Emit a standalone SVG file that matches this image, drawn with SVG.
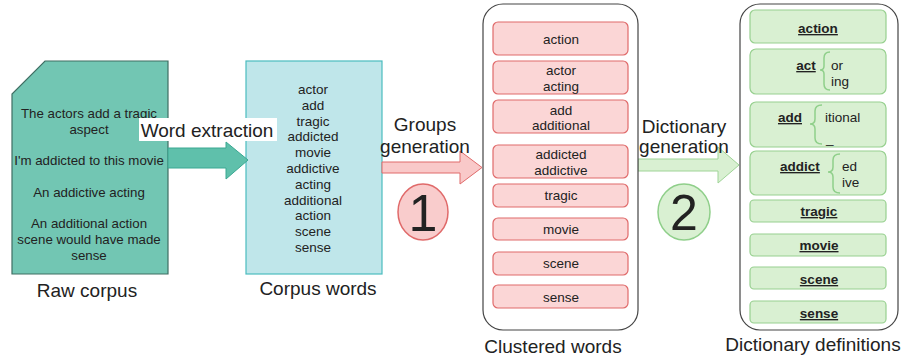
<svg xmlns="http://www.w3.org/2000/svg" width="903" height="359" viewBox="0 0 903 359">
<style>
text{font-family:"Liberation Sans",Arial,sans-serif;fill:#222;text-anchor:middle}
.s{font-size:13.3px}
.lbl{font-size:19px}
.w{font-size:13.5px}
.pk{fill:#fbd6d6;stroke:#e06a6a;stroke-width:1.2}
.gr{fill:#d9f0d2;stroke:#97d08f;stroke-width:1.2}
.b{font-weight:bold;text-decoration:underline}
.br{fill:none;stroke:#8fcf8a;stroke-width:1.5}
.l{text-anchor:start}
</style>
<rect width="903" height="359" fill="#fff"/>
<g id="raw-corpus">
<polygon points="45,61 168,61 168,274 12,274 12,94" fill="#72c6b3" stroke="#3f6e63" stroke-width="1.2"/>
<text class="s" x="89" y="118">The actors add a tragic</text>
<text class="s" x="89" y="134">aspect</text>
<text class="s" x="89" y="165">I'm addicted to this movie</text>
<text class="s" x="89" y="197">An addictive acting</text>
<text class="s" x="89" y="228">An additional action</text>
<text class="s" x="89" y="244">scene would have made</text>
<text class="s" x="89" y="260">sense</text>
<text class="lbl" x="87" y="297">Raw corpus</text>
</g>
<g id="corpus-words">
<rect x="246" y="61" width="136" height="213" fill="#bfe6ea" stroke="#4bbcbf" stroke-width="1.2"/>
<g class="w">
<text x="313" y="94">actor</text>
<text x="313" y="110">add</text>
<text x="313" y="126">tragic</text>
<text x="313" y="141">addicted</text>
<text x="313" y="157">movie</text>
<text x="313" y="173">addictive</text>
<text x="313" y="189">acting</text>
<text x="313" y="205">additional</text>
<text x="313" y="220">action</text>
<text x="313" y="236">scene</text>
<text x="313" y="252">sense</text>
</g>
<text class="lbl" x="318" y="295">Corpus words</text>
</g>
<g id="connectors">
<polygon points="168,148 226,148 226,142 248,160 226,179 226,168 168,168" fill="#5fc0ab" stroke="#3aa892" stroke-width="1"/>
<rect x="139" y="118" width="138" height="23" fill="#fff"/>
<text class="lbl" x="207" y="137">Word extraction</text>
<polygon points="382,162 460,162 460,151 482,167.5 460,184 460,173 382,173" fill="#f9c9c9" stroke="#e06a6a" stroke-width="1"/>
<text class="lbl" x="425" y="131">Groups</text>
<text class="lbl" x="425" y="153">generation</text>
<polygon points="638,159 718,159 718,147 739,165 718,183 718,171 638,171" fill="#d9f0d2" stroke="#9fd497" stroke-width="1"/>
<text class="lbl" x="684" y="133">Dictionary</text>
<text class="lbl" x="684" y="153">generation</text>
</g>
<g id="step-1">
<ellipse cx="423" cy="212" rx="25" ry="28" fill="#f9cccc" stroke="#e06a6a" stroke-width="1.5"/>
<text x="423" y="231" style="font-size:52px">1</text>
</g>
<g id="step-2">
<ellipse cx="684" cy="212" rx="26" ry="28" fill="#d9f0d2" stroke="#8fcf8a" stroke-width="1.5"/>
<text x="684" y="230" style="font-size:50px">2</text>
</g>
<g id="clustered-words">
<rect x="483" y="4" width="155" height="326" rx="20" fill="#fff" stroke="#444" stroke-width="1.2"/>
<rect class="pk" x="493" y="22" width="135" height="33" rx="5"/>
<rect class="pk" x="493" y="61" width="135" height="33" rx="5"/>
<rect class="pk" x="493" y="100" width="135" height="33" rx="5"/>
<rect class="pk" x="493" y="145" width="135" height="33" rx="5"/>
<rect class="pk" x="493" y="184" width="135" height="23" rx="5"/>
<rect class="pk" x="493" y="218" width="135" height="22" rx="5"/>
<rect class="pk" x="493" y="252" width="135" height="23" rx="5"/>
<rect class="pk" x="493" y="285" width="135" height="23" rx="5"/>
<g class="w">
<text x="561" y="44">action</text>
<text x="561" y="75">actor</text>
<text x="561" y="91">acting</text>
<text x="561" y="115">add</text>
<text x="561" y="130">additional</text>
<text x="561" y="159">addicted</text>
<text x="561" y="175">addictive</text>
<text x="561" y="200">tragic</text>
<text x="561" y="234">movie</text>
<text x="561" y="268">scene</text>
<text x="561" y="302">sense</text>
</g>
<text class="lbl" x="553" y="353">Clustered words</text>
</g>
<g id="dictionary-definitions">
<rect x="740" y="4" width="158" height="326" rx="20" fill="#fff" stroke="#444" stroke-width="1.2"/>
<rect class="gr" x="750" y="10" width="136" height="33" rx="5"/>
<rect class="gr" x="750" y="49" width="136" height="45" rx="6"/>
<rect class="gr" x="750" y="102" width="136" height="45" rx="6"/>
<rect class="gr" x="750" y="151" width="136" height="44" rx="6"/>
<rect class="gr" x="750" y="200" width="136" height="22" rx="4"/>
<rect class="gr" x="750" y="234" width="136" height="22" rx="4"/>
<rect class="gr" x="750" y="267" width="136" height="22" rx="4"/>
<rect class="gr" x="750" y="301" width="136" height="22" rx="4"/>
<g class="w">
<text class="b" x="818" y="33">action</text>
<text class="b" x="806" y="70">act</text>
<path class="br" d="M830,52 Q824,52 824,58 L824,66 Q824,70 820,70 Q824,70 824,74 L824,84 Q824,90 830,90"/>
<text class="l" x="831" y="70">or</text>
<text class="l" x="831" y="86">ing</text>
<text class="b" x="790" y="122">add</text>
<path class="br" d="M822,105 Q815,105 815,111 L815,119 Q815,124 810,124 Q815,124 815,129 L815,138 Q815,144 822,144"/>
<text class="l" x="825" y="122">itional</text>
<text class="l" x="826" y="143">_</text>
<text class="b" x="800" y="171">addict</text>
<path class="br" d="M840,154 Q833,154 833,160 L833,167 Q833,172 828,172 Q833,172 833,177 L833,187 Q833,193 840,193"/>
<text class="l" x="842" y="171">ed</text>
<text class="l" x="842" y="187">ive</text>
<text class="b" x="819" y="216">tragic</text>
<text class="b" x="819" y="250">movie</text>
<text class="b" x="819" y="284">scene</text>
<text class="b" x="819" y="318">sense</text>
</g>
<text class="lbl" x="813" y="351">Dictionary definitions</text>
</g>
</svg>
